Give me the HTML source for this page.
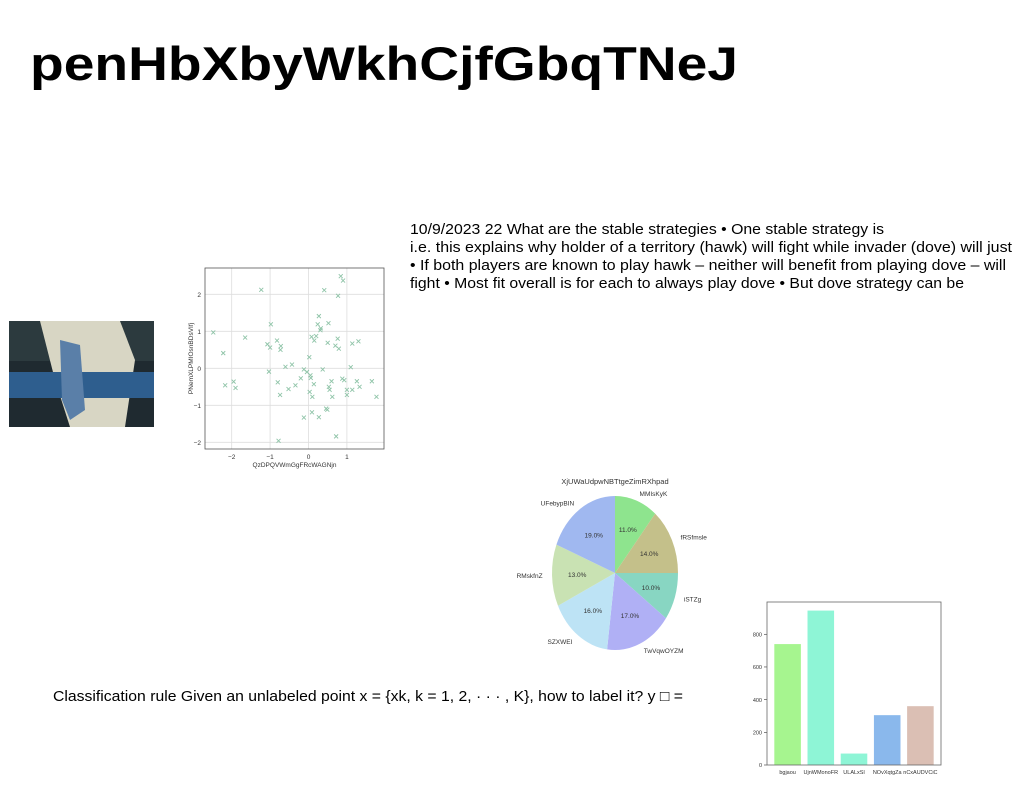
<!DOCTYPE html>
<html><head><meta charset="utf-8">
<style>
html,body{margin:0;padding:0;background:#fff;}
body{width:1024px;height:788px;position:relative;overflow:hidden;font-family:"Liberation Sans",sans-serif;}
svg{position:absolute;left:0;top:0;}
</style></head>
<body>
<svg id="page" width="1024" height="788">
  <text x="30" y="80" font-size="47" font-weight="bold" textLength="708" lengthAdjust="spacingAndGlyphs">penHbXbyWkhCjfGbqTNeJ</text>
  <g font-size="15" fill="#000">
    <text x="410" y="234" textLength="474" lengthAdjust="spacingAndGlyphs">10/9/2023 22 What are the stable strategies • One stable strategy is</text>
    <text x="410" y="252" textLength="602" lengthAdjust="spacingAndGlyphs">i.e. this explains why holder of a territory (hawk) will fight while invader (dove) will just</text>
    <text x="410" y="270" textLength="596" lengthAdjust="spacingAndGlyphs">• If both players are known to play hawk – neither will benefit from playing dove – will</text>
    <text x="410" y="288" textLength="554" lengthAdjust="spacingAndGlyphs">fight • Most fit overall is for each to always play dove • But dove strategy can be</text>
  </g>
  <text x="53" y="701" font-size="15" textLength="630" lengthAdjust="spacingAndGlyphs">Classification rule Given an unlabeled point x = {xk, k = 1, 2, · · · , K}, how to label it? y □ =</text>
  <g>
    <rect x="9" y="321" width="145" height="106" fill="#1f2a30"/>
    <rect x="9" y="321" width="145" height="40" fill="#2c3a3e"/>
    <path d="M40 321 L120 321 L135 360 L125 427 L70 427 L55 380 Z" fill="#d8d6c4"/>
    <rect x="9" y="372" width="145" height="26" fill="#2e5e8e"/>
    <path d="M60 340 L80 345 L85 410 L70 420 L62 400 Z" fill="#5a7fa8"/>
  </g>
  <g id="scatter"></g>
  <g id="pie"></g>
  <g id="bar"></g>
</svg>
<script>
const NS="http://www.w3.org/2000/svg";
// scatter data
const scatterX=[-2.48,-2.22,-2.17,-1.95,-1.9,-1.65,-1.23,-0.98,-1.07,-1.0,-1.03,-0.82,-0.72,-0.73,-0.8,-0.74,-0.78,-0.6,-0.43,-0.52,-0.34,-0.2,-0.12,-0.04,0.02,0.05,0.06,0.03,0.1,0.14,-0.12,0.09,0.27,0.08,0.15,0.2,0.24,0.27,0.31,0.32,0.37,0.41,0.46,0.49,0.5,0.52,0.53,0.55,0.6,0.62,0.7,0.72,0.76,0.77,0.79,0.84,0.88,0.9,0.93,1.0,1.0,1.1,1.14,1.14,1.26,1.3,1.33,1.65,1.77];
const scatterY=[0.97,0.41,-0.46,-0.36,-0.53,0.83,2.12,1.19,0.65,0.56,-0.09,0.75,0.6,0.5,-0.38,-0.72,-1.96,0.04,0.1,-0.56,-0.46,-0.27,-0.03,-0.1,0.3,-0.19,-0.26,-0.64,-0.77,-0.43,-1.33,-1.19,-1.32,0.85,0.75,0.87,1.19,1.41,1.03,1.08,-0.03,2.11,-1.09,-1.12,0.69,1.22,-0.5,-0.58,-0.35,-0.77,0.61,-1.84,0.8,1.96,0.53,2.49,-0.28,2.37,-0.32,-0.58,-0.72,0.03,0.67,-0.58,-0.35,0.73,-0.5,-0.35,-0.77];
const scatterXTicks=[-2,-1,0,1];
const scatterYTicks=[-2,-1,0,1,2];
// pie data
const pieLabels=["MMIsKyK","fRSfmsle","iSTZg","TwVqwOYZM","SZXWEI","RMskfnZ","UFebypBIN"];
const pieValues=[11,14,10,17,16,13,19];
// bar data
const barCats=["bgjaou","UjnWMonoFR","ULALxSl","NOvXqtgZa","nCxAUDVCiC"];
const barValues=[740,945,70,305,360];
const barTicks=[0,200,400,600,800];

function el(tag,attrs,parent,txt){const e=document.createElementNS(NS,tag);for(const k in attrs)e.setAttribute(k,attrs[k]);if(txt!==undefined)e.textContent=txt;parent.appendChild(e);return e;}

// scatter
(function(){
const g=document.getElementById('scatter');
const L=205,R=384,T=268,B=449;
const sx=v=>308.5+v*38.4, sy=v=>368.3-v*37;
scatterXTicks.forEach(t=>{el('line',{x1:sx(t),x2:sx(t),y1:T,y2:B,stroke:'#ddd','stroke-width':0.8},g);
 const tl=el('text',{x:sx(t),y:B+10,'font-size':6.5,'text-anchor':'middle',fill:'#333'},g,t<0?'−'+(-t):t);
 
 });
scatterYTicks.forEach(t=>{el('line',{x1:L,x2:R,y1:sy(t),y2:sy(t),stroke:'#ddd','stroke-width':0.8},g);
 const tl=el('text',{x:L-4,y:sy(t)+2.5,'font-size':6.5,'text-anchor':'end',fill:'#333'},g,t<0?'−'+(-t):t);
 
 });
el('rect',{x:L,y:T,width:R-L,height:B-T,fill:'none',stroke:'#555','stroke-width':0.8},g);
scatterX.forEach((x,i)=>{const px=sx(x),py=sy(scatterY[i]);
 const p=el('path',{d:`M${px-2} ${py-2}L${px+2} ${py+2}M${px-2} ${py+2}L${px+2} ${py-2}`,stroke:'#8fc4a8','stroke-width':0.9},g);
 
 });
const xt=el('text',{x:(L+R)/2,y:467,'font-size':6.5,'text-anchor':'middle',fill:'#333'},g,'QzDPQVWmGgFRcWAGNjn');

const yt=el('text',{x:0,y:0,'font-size':6.5,'text-anchor':'middle',fill:'#333',transform:`translate(193,${(T+B)/2}) rotate(-90)`},g,'PNemXLPMIOsnBDsVIfj');

})();

// pie
(function(){
const g=document.getElementById('pie');
const cx=615,cy=573,rx=63,ry=77;
const colors=["#8ee48e","#c4c08a","#88d6c2","#b0b0f5","#bde3f5","#c9e2b3","#a0b8f0"];
const total=pieValues.reduce((a,b)=>a+b,0);
let a0=-Math.PI/2;
pieValues.forEach((v,i)=>{
 const a1=a0+v/total*2*Math.PI;
 const large=(a1-a0)>Math.PI?1:0;
 const p=el('path',{d:`M${cx} ${cy}L${cx+rx*Math.cos(a0)} ${cy+ry*Math.sin(a0)}A${rx} ${ry} 0 ${large} 1 ${cx+rx*Math.cos(a1)} ${cy+ry*Math.sin(a1)}Z`,fill:colors[i]},g);
 
 
 const am=(a0+a1)/2;
 const pt=el('text',{x:cx+rx*0.6*Math.cos(am),y:cy+ry*0.6*Math.sin(am)+2.5,'font-size':6.5,'text-anchor':'middle',fill:'#333'},g,v.toFixed(1)+'%');
 
 
 const lx=cx+rx*1.15*Math.cos(am), ly=cy+ry*1.1*Math.sin(am)+2.5;
 const lt=el('text',{x:lx,y:ly,'font-size':6.5,'text-anchor':Math.cos(am)>0.05?'start':(Math.cos(am)<-0.05?'end':'middle'),fill:'#333'},g,pieLabels[i]);
 
 
 a0=a1;});
const t=el('text',{x:cx,y:484,'font-size':7.5,'text-anchor':'middle',fill:'#333'},g,'XjUWaUdpwNBTtgeZimRXhpad');

})();

// bar
(function(){
const g=document.getElementById('bar');
const L=767,R=941,T=602,B=765;
const sy=v=>B-v*0.1634;
const colors=["#a6f58f","#8ef5d6","#8ef5d6","#8ab8ec","#dbbfb4"];
const step=(R-L-8)/barCats.length;
barTicks.forEach(t=>{
 el('line',{x1:L-3,x2:L,y1:sy(t),y2:sy(t),stroke:'#333','stroke-width':0.6},g);
 const tl=el('text',{x:L-5,y:sy(t)+2.2,'font-size':5.5,'text-anchor':'end',fill:'#333'},g,t);
 
 });
barCats.forEach((c,i)=>{
 const cxm=L+4+step*(i+0.5);
 const r=el('rect',{x:cxm-step*0.4,y:sy(barValues[i]),width:step*0.8,height:B-sy(barValues[i]),fill:colors[i]},g);
 
 
 const tl=el('text',{x:cxm,y:B+9,'font-size':5.5,'text-anchor':'middle',fill:'#333'},g,c);
 
 });
el('rect',{x:L,y:T,width:R-L,height:B-T,fill:'none',stroke:'#666','stroke-width':0.8},g);
})();
</script>
</body></html>
